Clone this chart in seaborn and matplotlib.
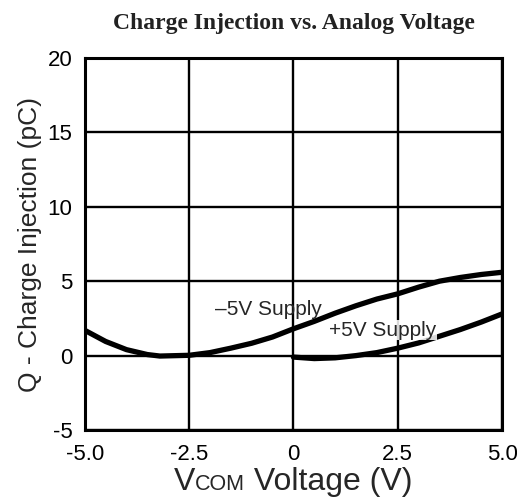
import pandas as pd
import matplotlib.pyplot as plt
import seaborn as sns
from matplotlib.offsetbox import TextArea, HPacker, AnchoredOffsetbox

# Charge injection curves
vcom_neg = [-5.0, -4.5, -4.0, -3.5, -3.2, -2.5, -2.0, -1.5, -1.0, -0.5, 0.0,
            0.5, 1.0, 1.5, 2.0, 2.5, 3.0, 3.5, 4.0, 4.5, 5.0]
q_neg = [1.7, 0.95, 0.4, 0.07, -0.03, 0.02, 0.2, 0.5, 0.83, 1.25, 1.8,
         2.3, 2.85, 3.35, 3.8, 4.15, 4.6, 5.0, 5.25, 5.45, 5.6]

vcom_pos = [0.0, 0.5, 1.0, 1.5, 2.0, 2.5, 3.0, 3.5, 4.0, 4.5, 5.0]
q_pos = [-0.1, -0.2, -0.15, 0.0, 0.2, 0.5, 0.85, 1.3, 1.75, 2.25, 2.8]

x_ticks = [-5.0, -2.5, 0, 2.5, 5.0]
x_tick_labels = ["-5.0", "-2.5", "0", "2.5", "5.0"]
y_ticks = [-5, 0, 5, 10, 15, 20]

df = pd.concat([
    pd.DataFrame({"vcom": vcom_neg, "q": q_neg, "supply": "-5V"}),
    pd.DataFrame({"vcom": vcom_pos, "q": q_pos, "supply": "+5V"}),
])

sns.set_style("white")
plt.rcParams["font.family"] = ["Liberation Sans", "DejaVu Sans"]
plt.rcParams["axes.unicode_minus"] = False

fig = plt.figure(figsize=(5.17, 5.0), dpi=100)
ax = fig.add_axes([0.164, 0.14, 0.807, 0.744])

sns.lineplot(data=df, x="vcom", y="q", hue="supply", units="supply",
             estimator=None, palette={"-5V": "black", "+5V": "black"},
             linewidth=3.8, legend=False, ax=ax, zorder=3)

ax.set_xlim(-5, 5)
ax.set_ylim(-5, 20)
ax.set_xticks(x_ticks)
ax.set_xticklabels(x_tick_labels)
ax.set_yticks(y_ticks)
ax.tick_params(axis="both", length=0, labelsize=16, colors="black")
ax.tick_params(axis="y", pad=9)
ax.tick_params(axis="x", pad=10)
ax.grid(True, color="black", linewidth=1.7)
for sp in ax.spines.values():
    sp.set_color("black")
    sp.set_linewidth(2.2)

ax.set_ylabel("Q - Charge Injection (pC)", fontsize=19, labelpad=4)
ax.set_xlabel("")

# x label with small-caps style "COM"
parts = HPacker(children=[
    TextArea("V", textprops=dict(fontsize=23, family="Liberation Sans")),
    TextArea("COM", textprops=dict(fontsize=15.5, family="Liberation Sans")),
    TextArea(" Voltage (V)", textprops=dict(fontsize=23, family="Liberation Sans")),
], align="baseline", pad=0, sep=0)
box = AnchoredOffsetbox(loc="upper center", child=parts, pad=0, frameon=False,
                        bbox_to_anchor=(0.5, -0.1), bbox_transform=ax.transAxes,
                        borderpad=0)
ax.add_artist(box)

ax.text(-0.6, 3.1, "\u20135V Supply", fontsize=15, ha="center", va="center",
        zorder=4)
ax.text(2.15, 1.7, "+5V Supply", fontsize=15, ha="center", va="center",
        zorder=4, bbox=dict(facecolor="white", edgecolor="none", pad=0.3, alpha=0.85))

fig.text(0.568, 0.953, "Charge Injection vs. Analog Voltage", ha="center", va="center",
         fontsize=17, fontweight="bold", family="Liberation Serif", color="#222222")

fig.savefig("out.png", dpi=100)
